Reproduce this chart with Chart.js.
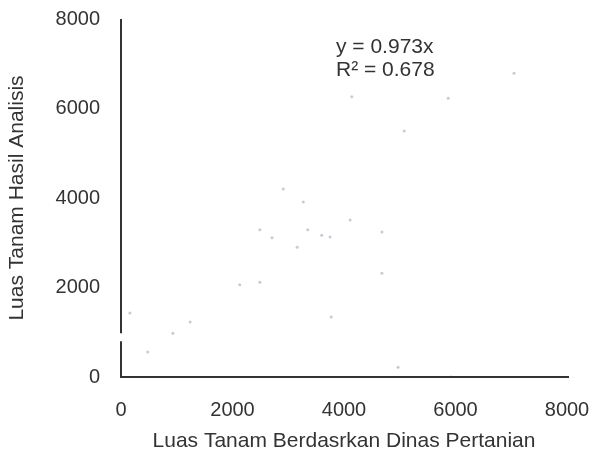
<!DOCTYPE html>
<html><head><meta charset="utf-8">
<script src="https://cdn.jsdelivr.net/npm/chart.js@4"></script>
<style>html,body{margin:0;padding:0;background:#fff}#wrap{width:592px;height:457px}</style>
</head><body><div id="wrap"><canvas id="c" width="592" height="457"></canvas></div>
<script>
const xValues = [7050, 4140, 5870, 5080, 2910, 3270, 4110, 2490, 2710, 3350, 3600, 3750, 4680, 3160, 4680, 2490, 2130, 1240, 930, 160, 480, 3770, 4970, 5920];
const yValues = [6790, 6260, 6230, 5500, 4200, 3910, 3510, 3290, 3110, 3290, 3170, 3130, 3240, 2900, 2320, 2120, 2060, 1230, 980, 1430, 560, 1340, 220, 0];
const tickValues = [0, 2000, 4000, 6000, 8000];
const equationLines = ['y = 0.973x', 'R² = 0.678'];
const xTitle = 'Luas Tanam Berdasrkan Dinas Pertanian';
const yTitle = 'Luas Tanam Hasil Analisis';
const axisBreak = [800, 980];

const ink = '#333';
const fam = '"Liberation Sans", Arial, sans-serif';
const axesPlugin = {
  id: 'axesPlugin',
  afterDraw(chart) {
    const ctx = chart.ctx, xs = chart.scales.x, ys = chart.scales.y;
    const x0 = xs.getPixelForValue(0), y0 = ys.getPixelForValue(0);
    ctx.save();
    ctx.strokeStyle = ink; ctx.lineWidth = 2; ctx.lineCap = 'butt';
    ctx.beginPath();
    ctx.moveTo(x0, ys.getPixelForValue(8000));
    ctx.lineTo(x0, ys.getPixelForValue(axisBreak[1]));
    ctx.moveTo(x0, ys.getPixelForValue(axisBreak[0]));
    ctx.lineTo(x0, y0);
    ctx.lineTo(xs.getPixelForValue(8000) + 2, y0);
    ctx.stroke();
    ctx.fillStyle = ink;
    ctx.font = '21px ' + fam;
    ctx.textBaseline = 'middle';
    ctx.textAlign = 'left';
    ctx.fillText(equationLines[0], 336, 47);
    ctx.fillText(equationLines[1], 336, 70);
    ctx.restore();
  }
};

new Chart(document.getElementById('c'), {
  type: 'scatter',
  data: {
    datasets: [{
      data: xValues.map((x, i) => ({ x, y: yValues[i] })),
      backgroundColor: 'rgba(150,150,175,0.5)',
      borderColor: 'rgba(150,150,175,0.5)',
      pointRadius: 1.5,
      borderWidth: 0
    }]
  },
  options: {
    responsive: false,
    animation: false,
    layout: { padding: { top: 19, right: 25, left: 0, bottom: 0 } },
    plugins: { legend: { display: false }, tooltip: { enabled: false } },
    scales: {
      x: {
        type: 'linear', min: 0, max: 8000,
        afterBuildTicks: s => { s.ticks = tickValues.map(v => ({ value: v })); },
        grid: { display: false, drawTicks: false },
        border: { display: false },
        ticks: { color: ink, font: { size: 20, family: fam }, padding: 21, maxRotation: 0, callback: v => String(v) },
        title: { display: true, text: xTitle, color: ink, font: { size: 21, family: fam }, padding: { top: 0, bottom: 3 } },
        afterFit: s => { s.height = 80; s.paddingLeft = 0; s.paddingRight = 0; }
      },
      y: {
        type: 'linear', min: 0, max: 8000,
        afterBuildTicks: s => { s.ticks = tickValues.map(v => ({ value: v })); },
        grid: { display: false, drawTicks: false },
        border: { display: false },
        ticks: { color: ink, font: { size: 20, family: fam }, padding: 21, callback: v => String(v) },
        title: { display: true, text: yTitle, color: ink, font: { size: 21, family: fam }, padding: { top: 5, bottom: 0 } },
        afterFit: s => { s.width = 121; s.paddingTop = 0; s.paddingBottom = 0; }
      }
    }
  },
  plugins: [axesPlugin]
});
</script></body></html>
